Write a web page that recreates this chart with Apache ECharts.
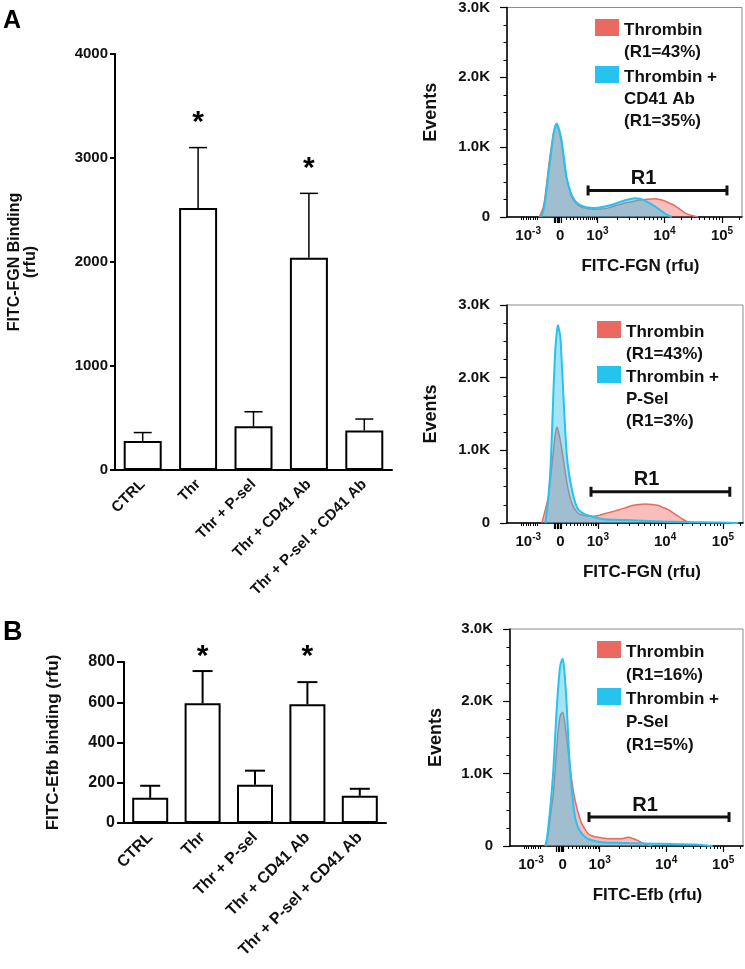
<!DOCTYPE html>
<html><head><meta charset="utf-8">
<script src="https://cdn.jsdelivr.net/npm/echarts@6/dist/echarts.min.js"></script>
<style>html,body{margin:0;padding:0;background:#fff}#c{width:745px;height:969px}</style>
</head><body><div id="c"></div><script>
// ---------- bar charts ----------
const categories = ['CTRL', 'Thr', 'Thr + P-sel', 'Thr + CD41 Ab', 'Thr + P-sel + CD41 Ab'];
const fgnMean = [280, 2520, 420, 2040, 380];
const fgnSem  = [80, 580, 140, 620, 110];
const fgnStar = [null, 3390, null, 2945, null];
const efbMean = [125, 595, 190, 590, 135];
const efbSem  = [60, 160, 70, 110, 35];
const efbStar = [null, 850, null, 850, null];

// ---------- flow histograms (x: display channel 0-1000, y: events) ----------
const h1Thrombin = [[138,0],[155,150],[167,430],[177,720],[188,990],[199,1220],[209,1320],[220,1250],[231,1080],[242,820],[252,570],[263,420],[273,310],[288,220],[302,170],[320,140],[337,126],[355,115],[374,110],[395,113],[417,120],[438,138],[460,160],[481,180],[502,200],[524,215],[545,230],[566,242],[587,250],[609,256],[630,260],[651,250],[672,230],[694,195],[715,160],[736,110],[757,60],[778,30],[800,10],[813,0]];
const h1CD41 = [[145,0],[157,120],[167,350],[177,640],[188,920],[200,1230],[212,1340],[222,1250],[231,1120],[242,860],[252,600],[263,440],[273,330],[288,240],[302,190],[320,160],[337,140],[355,132],[374,130],[395,136],[417,150],[438,168],[460,190],[481,215],[502,240],[524,258],[545,270],[566,262],[587,235],[609,195],[630,150],[651,100],[672,50],[690,15],[701,0]];
const h2Thrombin = [[148,0],[162,180],[176,370],[187,700],[197,1000],[205,1230],[212,1320],[222,1200],[233,1000],[244,760],[254,550],[265,380],[275,270],[289,180],[303,130],[318,110],[340,95],[360,90],[388,105],[416,130],[445,155],[473,180],[502,210],[530,240],[558,255],[586,260],[614,255],[642,240],[664,210],[685,180],[706,135],[727,90],[748,45],[769,10],[784,0]];
const h2PSel = [[162,0],[172,250],[183,680],[190,1200],[197,1830],[205,2400],[212,2650],[216,2720],[221,2650],[226,2560],[233,2150],[240,1690],[247,1250],[254,910],[264,650],[275,460],[289,280],[303,180],[330,120],[360,90],[403,55],[450,45],[515,40],[580,30],[657,20],[730,15],[798,10],[870,8],[939,5],[980,0]];
const h3Thrombin = [[150,0],[165,200],[176,480],[186,720],[196,1150],[207,1600],[216,1800],[226,1850],[234,1720],[243,1500],[254,1200],[265,910],[275,700],[286,540],[297,410],[308,310],[322,230],[336,170],[357,135],[379,120],[400,108],[422,100],[450,100],[479,100],[508,120],[530,100],[551,70],[565,45],[579,30],[594,12],[608,0]];
const h3PSel = [[155,0],[165,280],[176,640],[186,1050],[196,1650],[207,2200],[216,2500],[226,2590],[234,2400],[243,1970],[250,1500],[258,1050],[268,680],[279,400],[293,250],[308,170],[329,110],[351,80],[380,60],[408,50],[460,45],[508,40],[580,35],[651,30],[720,25],[794,20],[851,5],[870,0]];
// R1 gates: [start channel, end channel, events level]
const h1Gate = [[345, 936, 380]];
const h2Gate = [[356, 944, 430]];
const h3Gate = [[339, 940, 400]];

const xLabelChannels = [90, 226, 385, 670, 915];
const xLabelBase = ['10', '0', '10', '10', '10'];
const xLabelExp  = ['-3', '', '3', '4', '5'];
const histMajorTicks = [200, 206, 212, 218, 224, 230, 385, 670, 915];
const histMinorTicks = [60,70,80,90,100,110,120,128,250,268,284,298,312,324,336,346,356,364,372,378,469,519,555,582,605,624,641,655,742,786,817,841,860,877,891,904,989];
const histYLabels = ['0', '1.0K', '2.0K', '3.0K'];

const FF = '"Liberation Sans", Arial, Helvetica, sans-serif';
const RED = '#ea6a62', RED_FILL = 'rgba(236,96,88,0.58)';
const BLUE = '#25c3ee', BLUE_FILL = 'rgba(40,190,236,0.6)';

function errRender(capW, lw) {
  return function (params, api) {
    const p0 = api.coord([api.value(0), api.value(1)]);
    const p1 = api.coord([api.value(0), api.value(2)]);
    return {type: 'group', children: [
      {type: 'line', shape: {x1: p0[0], y1: p0[1], x2: p1[0], y2: p1[1]}, style: {stroke: '#000', lineWidth: lw}},
      {type: 'line', shape: {x1: p1[0] - capW / 2, y1: p1[1], x2: p1[0] + capW / 2, y2: p1[1]}, style: {stroke: '#000', lineWidth: lw}}
    ]};
  };
}
function starRender(size) {
  return function (params, api) {
    const p = api.coord([api.value(0), api.value(1)]);
    return {type: 'text', x: p[0], y: p[1] + size * 0.17, style: {text: '*', fontSize: size, fontWeight: 'bold', fontFamily: FF, fill: '#000', align: 'center', verticalAlign: 'middle'}};
  };
}
function gateRender(params, api) {
  const a = api.coord([api.value(0), api.value(2)]);
  const b = api.coord([api.value(1), api.value(2)]);
  const lx = a[0] + (b[0] - a[0]) * 0.4;
  const st = {stroke: '#111', lineWidth: 3};
  return {type: 'group', children: [
    {type: 'line', shape: {x1: a[0], y1: a[1], x2: b[0], y2: b[1]}, style: st},
    {type: 'line', shape: {x1: a[0], y1: a[1] - 5, x2: a[0], y2: a[1] + 5}, style: st},
    {type: 'line', shape: {x1: b[0], y1: b[1] - 5, x2: b[0], y2: b[1] + 5}, style: st},
    {type: 'text', x: lx, y: a[1] - 12, style: {text: 'R1', fontSize: 20, fontWeight: 'bold', fontFamily: FF, fill: '#111', align: 'center', verticalAlign: 'middle'}}
  ]};
}

function barX(gridIndex, fs) {
  return {type: 'category', gridIndex, data: categories,
    axisLine: {lineStyle: {color: '#000', width: 2}},
    axisTick: {alignWithLabel: true, length: 6, lineStyle: {color: '#000', width: 2}},
    axisLabel: {interval: 0, rotate: 45, margin: 12, fontSize: fs, fontWeight: 'bold', color: '#111', fontFamily: FF}};
}
function histX(gridIndex, name, shift) {
  return [{
    type: 'value', gridIndex, min: 0, max: 1000, position: 'bottom',
    axisLine: {show: true, onZero: false, lineStyle: {color: '#000', width: 1.5}},
    axisTick: {show: true, customValues: histMajorTicks, length: 6, lineStyle: {color: '#000', width: 1.2}},
    axisLabel: {show: true, customValues: xLabelChannels, margin: 9,
      formatter: function (v) {
        const k = xLabelChannels.indexOf(Math.round(v));
        if (k < 0) return '';
        return xLabelExp[k] ? '{b|' + xLabelBase[k] + '}{s|' + xLabelExp[k] + '}' : '{b|' + xLabelBase[k] + '}';
      },
      rich: {b: {fontSize: 15, fontWeight: 'bold', color: '#111', fontFamily: FF, lineHeight: 19},
             s: {fontSize: 10, fontWeight: 'bold', color: '#111', fontFamily: FF, verticalAlign: 'top'}}},
    splitLine: {show: false},
    name, nameLocation: 'middle', nameGap: 41,
    nameTextStyle: {fontSize: 17, fontWeight: 'bold', color: '#111', fontFamily: FF, padding: [0, 0, 0, shift * 2]}
  }, {
    type: 'value', gridIndex, min: 0, max: 1000, position: 'bottom',
    axisLine: {show: false}, axisLabel: {show: false}, splitLine: {show: false},
    axisTick: {show: true, customValues: histMinorTicks, length: 3, lineStyle: {color: '#000', width: 1}}
  }];
}
function histY(gridIndex, gap) {
  return {type: 'value', gridIndex, min: 0, max: 3000, interval: 1000,
    axisLine: {show: true, lineStyle: {color: '#000', width: 1.5}},
    axisTick: {show: true, length: 7, lineStyle: {color: '#000', width: 1.2}},
    minorTick: {show: true, splitNumber: 4, length: 3.5, lineStyle: {color: '#000', width: 1}},
    axisLabel: {fontSize: 15, fontWeight: 'bold', color: '#111', fontFamily: FF, margin: 17,
      formatter: v => histYLabels[Math.round(v / 1000)]},
    splitLine: {show: false}, minorSplitLine: {show: false},
    name: 'Events', nameLocation: 'middle', nameGap: gap,
    nameTextStyle: {fontSize: 18, fontWeight: 'bold', color: '#111', fontFamily: FF}};
}
function histSeries(name, data, xi, yi, color, fill, width, z) {
  return {type: 'line', name, data, xAxisIndex: xi, yAxisIndex: yi, showSymbol: false, symbol: 'none',
    smooth: 0.3, lineStyle: {color, width}, itemStyle: {color}, areaStyle: {color: fill}, z, silent: true};
}
function gateSeries(data, xi, yi) {
  return {type: 'custom', data, xAxisIndex: xi, yAxisIndex: yi, renderItem: gateRender, clip: false, z: 10, silent: true};
}
function mkLegend(name, color, left, top, nLines, lh) {
  const h = nLines * lh;
  return {data: [{name, icon: 'path://M0,0L24,0L24,17L0,17Z M0,' + h + 'L24,' + h, itemStyle: {color, borderWidth: 0}}],
    left, top, itemWidth: 24, itemHeight: h, padding: 0, orient: 'vertical', selectedMode: false,
    textStyle: {fontSize: 17, fontWeight: 'bold', lineHeight: lh, color: '#111', fontFamily: FF}};
}

const N1 = 'Thrombin\n(R1=43%)', N2 = 'Thrombin +\nCD41 Ab\n(R1=35%)';
const N3 = 'Thrombin +\nP-Sel\n(R1=3%)';
const N4 = 'Thrombin\n(R1=16%)', N5 = 'Thrombin +\nP-Sel\n(R1=5%)';
const frame = {show: true, borderColor: '#8c8c8c', borderWidth: 1, backgroundColor: 'transparent'};

const option = {
  animation: false,
  backgroundColor: '#fff',
  textStyle: {fontFamily: FF},
  title: [
    {text: 'A', left: 3, top: 9, padding: 0, textStyle: {fontSize: 25, fontWeight: 'bold', color: '#000', fontFamily: FF}},
    {text: 'B', left: 3, top: 619, padding: 0, textStyle: {fontSize: 27, fontWeight: 'bold', color: '#000', fontFamily: FF}}
  ],
  legend: [
    mkLegend(N1, RED, 595, 19, 2, 22), mkLegend(N2, BLUE, 595, 66, 3, 22),
    mkLegend(N1, RED, 597, 321, 2, 22), mkLegend(N3, BLUE, 597, 366, 3, 22),
    mkLegend(N4, RED, 597, 641, 2, 23), mkLegend(N5, BLUE, 597, 688, 3, 23)
  ],
  grid: [
    {left: 115, top: 54, width: 277, height: 416},
    {left: 124, top: 662, width: 262, height: 161},
    Object.assign({left: 507, top: 4, width: 235, height: 213}, frame),
    Object.assign({left: 507, top: 305, width: 236, height: 218}, frame),
    Object.assign({left: 510, top: 629, width: 233, height: 217}, frame)
  ],
  xAxis: [barX(0, 15), barX(1, 16),
    ...histX(2, 'FITC-FGN (rfu)', 16), ...histX(3, 'FITC-FGN (rfu)', 17), ...histX(4, 'FITC-Efb (rfu)', 21)],
  yAxis: [
    {type: 'value', gridIndex: 0, min: 0, max: 4000, interval: 1000,
      axisLine: {show: true, lineStyle: {color: '#000', width: 2}},
      axisTick: {show: true, length: 5, lineStyle: {color: '#000', width: 2}},
      axisLabel: {fontSize: 15, fontWeight: 'bold', color: '#111', margin: 7, fontFamily: FF, formatter: v => String(v)},
      splitLine: {show: false},
      name: 'FITC-FGN Binding\n(rfu)', nameLocation: 'middle', nameGap: 76,
      nameTextStyle: {fontSize: 16, fontWeight: 'bold', color: '#111', lineHeight: 16, fontFamily: FF}},
    {type: 'value', gridIndex: 1, min: 0, max: 800, interval: 200,
      axisLine: {show: true, lineStyle: {color: '#000', width: 2}},
      axisTick: {show: true, length: 7, lineStyle: {color: '#000', width: 2}},
      axisLabel: {fontSize: 16, fontWeight: 'bold', color: '#111', margin: 9, fontFamily: FF, formatter: v => String(v)},
      splitLine: {show: false},
      name: 'FITC-Efb binding (rfu)', nameLocation: 'middle', nameGap: 62,
      nameTextStyle: {fontSize: 17, fontWeight: 'bold', color: '#111', fontFamily: FF}},
    histY(2, 67), histY(3, 67), histY(4, 65)
  ],
  series: [
    {type: 'bar', xAxisIndex: 0, yAxisIndex: 0, data: fgnMean, barWidth: 38, silent: true,
      itemStyle: {color: '#fff', borderColor: '#000', borderWidth: 2}},
    {type: 'custom', xAxisIndex: 0, yAxisIndex: 0, clip: false, z: 5, silent: true,
      data: fgnMean.map((m, i) => [i, m, m + fgnSem[i]]), renderItem: errRender(18, 1.5)},
    {type: 'custom', xAxisIndex: 0, yAxisIndex: 0, clip: false, z: 5, silent: true,
      data: fgnStar.map((v, i) => v == null ? null : [i, v]).filter(Boolean), renderItem: starRender(30)},
    {type: 'bar', xAxisIndex: 1, yAxisIndex: 1, data: efbMean, barWidth: 36, silent: true,
      itemStyle: {color: '#fff', borderColor: '#000', borderWidth: 2}},
    {type: 'custom', xAxisIndex: 1, yAxisIndex: 1, clip: false, z: 5, silent: true,
      data: efbMean.map((m, i) => [i, m, m + efbSem[i]]), renderItem: errRender(20, 2)},
    {type: 'custom', xAxisIndex: 1, yAxisIndex: 1, clip: false, z: 5, silent: true,
      data: efbStar.map((v, i) => v == null ? null : [i, v]).filter(Boolean), renderItem: starRender(30)},

    histSeries(N1, h1Thrombin, 2, 2, RED, RED_FILL, 1.5, 2),
    histSeries(N2, h1CD41, 2, 2, BLUE, BLUE_FILL, 2, 3),
    gateSeries(h1Gate, 2, 2),
    histSeries(N1, h2Thrombin, 4, 3, RED, RED_FILL, 1.5, 2),
    histSeries(N3, h2PSel, 4, 3, BLUE, BLUE_FILL, 2, 3),
    gateSeries(h2Gate, 4, 3),
    histSeries(N4, h3Thrombin, 6, 4, RED, RED_FILL, 1.5, 2),
    histSeries(N5, h3PSel, 6, 4, BLUE, BLUE_FILL, 2, 3),
    gateSeries(h3Gate, 6, 4)
  ]
};
const chart = echarts.init(document.getElementById('c'), null, {renderer: 'canvas'});
chart.setOption(option);
</script></body></html>
